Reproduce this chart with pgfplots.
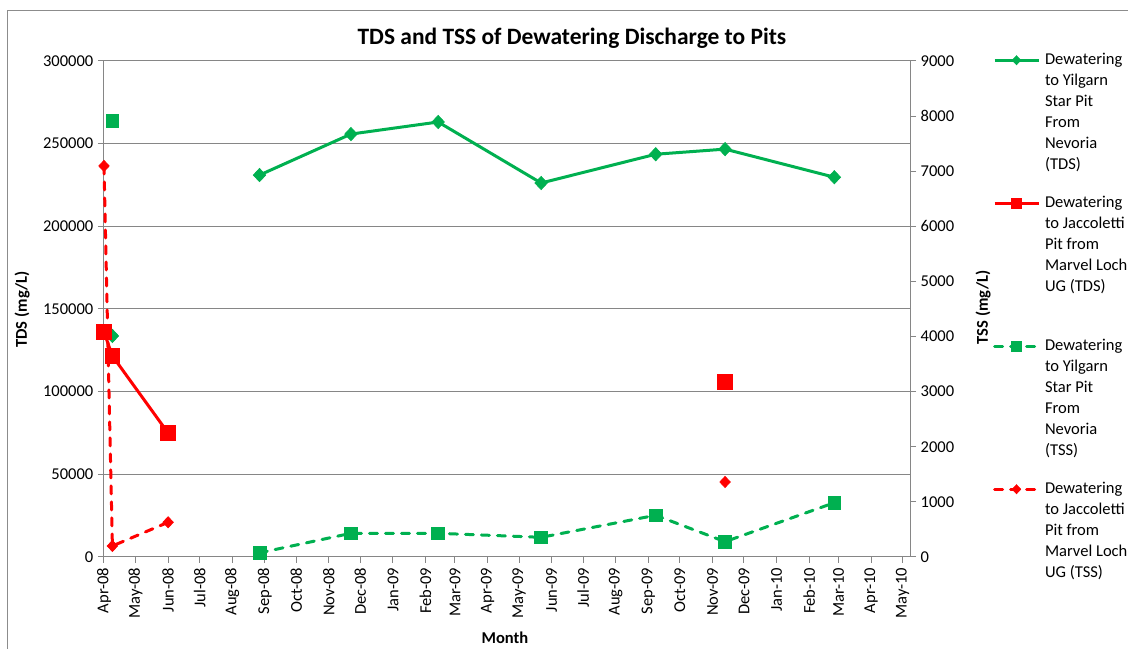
\documentclass[border=0pt]{standalone}
\usepackage{pgfplots}
\pgfplotsset{compat=1.18}
\usepackage{pgfplotstable}
\usepackage{fontspec}
\setmainfont{Carlito}
\definecolor{cgreen}{HTML}{00B050}
\definecolor{cred}{HTML}{FF0000}
\definecolor{gridgray}{HTML}{868686}
\definecolor{framegray}{HTML}{8C8C8C}
\newcommand\tickfont{\fontsize{12.4}{14.9}\selectfont}
\newcommand\legfont{\fontsize{12.4}{15.75}\selectfont}

% days since 1 Apr 2008
\pgfplotstableread{
x y
8 133700
nan nan
148 231000
235 255800
318 263100
416 226200
525 243600
591 246700
695 229700
}\greenTDS
\pgfplotstableread{
x y
0 136000
8 121600
61 75000
nan nan
591 105800
}\redTDS
\pgfplotstableread{
x y
8 7911
nan nan
148 75
235 430
318 430
416 357
525 757
591 278
695 985
}\greenTSS
\pgfplotstableread{
x y
0 7095
8 200
61 630
nan nan
591 1361
}\redTSS

\pgfplotsset{
  common/.style={
    at={(0,0)}, anchor=south west,
    scale only axis, width=604.5pt, height=372pt,
    xmin=0, xmax=767,
    clip=false,
    unbounded coords=jump,
    tick align=outside,
    major tick length=4.5pt,
    tick style={gridgray, line width=0.75pt},
    axis line style={gridgray, line width=0.75pt},
    ticklabel style={font=\tickfont, text=black},
    label style={font=\bfseries\tickfont},
  },
  tds/.style={line width=2.25pt, mark options={solid, line width=0.5pt}},
  tss/.style={line width=2.25pt, dash pattern=on 6pt off 6pt, line cap=round, mark options={solid, line width=0.5pt}},
  dmd/.style={mark options={solid, line width=0.5pt, xscale=1.25}},
}

\begin{document}
\begin{tikzpicture}
\begin{axis}[common,
  ymin=0, ymax=300000,
  axis x line*=bottom, axis y line*=left,
  ymajorgrids, grid style={gridgray, line width=0.75pt},
  scaled y ticks=false,
  ytick={0,50000,100000,150000,200000,250000,300000},
  yticklabels={0,50000,100000,150000,200000,250000,300000},
  xtick={0,30,61,91,122,153,183,214,244,275,306,334,365,395,426,456,487,518,548,579,609,640,671,699,730,760},
  xticklabels={Apr-08,May-08,Jun-08,Jul-08,Aug-08,Sep-08,Oct-08,Nov-08,Dec-08,Jan-09,Feb-09,Mar-09,Apr-09,May-09,Jun-09,Jul-09,Aug-09,Sep-09,Oct-09,Nov-09,Dec-09,Jan-10,Feb-10,Mar-10,Apr-10,May-10},
  xticklabel style={rotate=90, anchor=east},
  title={TDS and TSS of Dewatering Discharge to Pits},
  every axis title shift=0pt,
  title style={at={(rel axis cs:0.5806,1.0464)}, anchor=center, font=\bfseries\fontsize{17.6}{20}\selectfont},
  xlabel={Month},
  xlabel style={at={(rel axis cs:0.4975,-0.1633)}, anchor=center},
  ylabel={TDS (mg/L)},
  ylabel style={at={(rel axis cs:-0.1017,0.499)}, anchor=center},
]
\addplot[tds, dmd, cgreen, mark=diamond*, mark size=5pt] table[x=x,y=y] {\greenTDS};
\addplot[tds, cred, mark=square*, mark size=5.5pt] table[x=x,y=y] {\redTDS};
\end{axis}
\begin{axis}[common,
  ymin=0, ymax=9000,
  axis x line=none, axis y line*=right,
  ytick={0,1000,2000,3000,4000,5000,6000,7000,8000,9000},
  yticklabels={0,1000,2000,3000,4000,5000,6000,7000,8000,9000},
  ylabel={TSS (mg/L)},
  ylabel style={at={(rel axis cs:1.0906,0.503)}, anchor=center},
  legend style={at={(rel axis cs:1.1030,1.019)}, anchor=north west, draw=none, fill=none,
    inner sep=0pt, outer sep=0pt, row sep=0pt, column sep=3.75pt,
    nodes={inner sep=0pt, anchor=base west, text height=9.5pt, text depth=97.75pt}, font=\legfont},
  legend image code/.code={\draw[mark repeat=2,mark phase=2,#1] plot coordinates {(0pt,3pt) (16.5pt,3pt) (33pt,3pt)};},
]
\addlegendimage{tds, dmd, cgreen, mark=diamond*, mark size=3.4pt}
\addlegendentry{\parbox[t]{80pt}{\raggedright Dewatering\\to Yilgarn\\Star Pit\\From\\Nevoria\\(TDS)}}
\addlegendimage{tds, cred, mark=square*, mark size=3.6pt}
\addlegendentry{\parbox[t]{80pt}{\raggedright Dewatering\\to Jaccoletti\\Pit from\\Marvel Loch\\UG (TDS)}}
\addplot[tss, cgreen, mark=square*, mark size=4.8pt, forget plot] table[x=x,y=y] {\greenTSS};
\addlegendimage{tss, cgreen, mark=square*, mark size=3.6pt}
\addlegendentry{\parbox[t]{80pt}{\raggedright Dewatering\\to Yilgarn\\Star Pit\\From\\Nevoria\\(TSS)}}
\addplot[tss, dmd, cred, mark=diamond*, mark size=4.2pt, forget plot] table[x=x,y=y] {\redTSS};
\addlegendimage{tss, dmd, cred, mark=diamond*, mark size=3.4pt}
\addlegendentry{\parbox[t]{80pt}{\raggedright Dewatering\\to Jaccoletti\\Pit from\\Marvel Loch\\UG (TSS)}}
\end{axis}
\draw[framegray, line width=0.75pt] (-72pt,-69pt) -- (-72pt,409.5pt) -- (768pt,409.5pt);
\pgfresetboundingbox
\useasboundingbox (-78pt,-69pt) rectangle (768pt,417.75pt);
\end{tikzpicture}
\end{document}
